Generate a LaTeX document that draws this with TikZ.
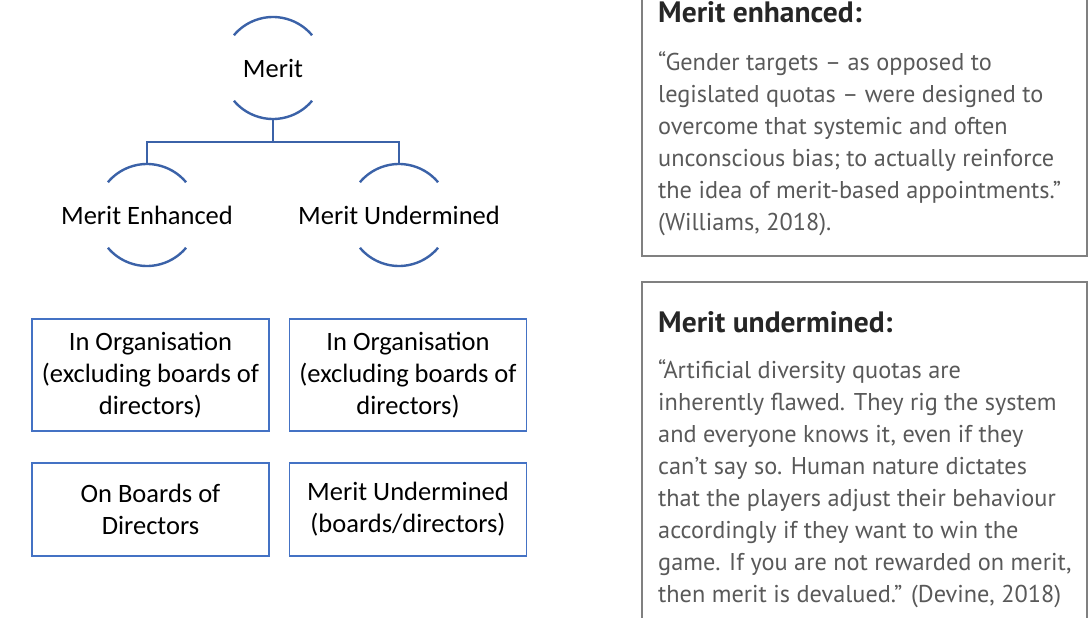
\documentclass[tikz,border=0pt]{standalone}
\usepackage{fontspec}
\setmainfont{Carlito}
\newfontfamily\quotefont{PT Sans}
\usetikzlibrary{positioning}
\definecolor{ringblue}{RGB}{59,98,168}
\definecolor{cellblue}{RGB}{68,114,196}
\definecolor{quotegray}{RGB}{89,89,89}
\definecolor{titlegray}{RGB}{38,38,38}
\definecolor{framegray}{RGB}{128,128,128}
\tikzset{
  ring/.style={circle,minimum size=102pt,inner sep=0pt,
    label={[font=\fontsize{26.5}{32}\selectfont]center:#1}},
  ringline/.style={draw=ringblue,line width=2.4pt},
  cell/.style={draw=cellblue,line width=1.3pt,minimum width=237pt,
    align=center,inner sep=0pt,font=\fontsize{26.5}{32}\selectfont},
  frame/.style={draw=framegray,line width=1.3pt},
  qtitle/.style={anchor=base west,inner sep=0pt,text=titlegray,
    font=\quotefont\bfseries\fontsize{29.5}{32}\selectfont},
  qbody/.style={anchor=base west,inner sep=0pt,align=left,text=quotegray,
    font=\quotefont\fontsize{24.3}{32}\selectfont}
}
% top and bottom arcs of a ring node
\newcommand\ringarcs[1]{%
  \draw[ringline] ([shift={(140:51pt)}]#1.center) arc[start angle=140,end angle=40,radius=51pt];
  \draw[ringline] ([shift={(220:51pt)}]#1.center) arc[start angle=220,end angle=320,radius=51pt];}
\begin{document}
\begin{tikzpicture}[x=1pt,y=-1pt]
\useasboundingbox (0,0) rectangle (1090,618);
\clip (0,0) rectangle (1090,618);

% tree
\node[ring=Merit] (merit) at (273,68) {};
\node[ring=Merit Enhanced] (enh) at (147,215) {};
\node[ring=Merit Undermined] (und) at (399,215) {};
\ringarcs{merit}
\ringarcs{enh}
\ringarcs{und}
\coordinate (fork) at ([yshift=-23pt]merit.south);
\draw[ringline] (merit.south) -- (fork) -| (enh.north);
\draw[ringline] (fork) -| (und.north);

% boxes
\node[cell,minimum height=112pt] (orgenh) at (150.5,375) {In Organisation\\(excluding boards of\\directors)};
\node[cell,minimum height=112pt] (orgund) at (408,375) {In Organisation\\(excluding boards of\\directors)};
\node[cell,minimum height=93pt] (brdenh) at (150.5,509.5) {On Boards of\\Directors};
\node[cell,minimum height=93pt] (brdund) at (408,509.5) {Merit Undermined\\(boards/directors)};

% quotes (anchored at the baseline of the last line)
\draw[frame] (642,-5) rectangle (1087,256);
\node[qtitle] (enhtitle) at (658,23) {Merit enhanced:};
\node[qbody] (enhquote) at (658,230) {“Gender targets – as opposed to\\
legislated quotas – were designed to\\
overcome that systemic and often\\
unconscious bias; to actually reinforce\\
the idea of merit-based appointments.”\\
(Williams, 2018).};

\draw[frame] (642,282) rectangle (1087,630);
\node[qtitle] (undtitle) at (658,332) {Merit undermined:};
\node[qbody] (undquote) at (658,602) {“Artificial diversity quotas are\\
inherently flawed. They rig the system\\
and everyone knows it, even if they\\
can’t say so. Human nature dictates\\
that the players adjust their behaviour\\
accordingly if they want to win the\\
game. If you are not rewarded on merit,\\
then merit is devalued.” (Devine, 2018)};
\end{tikzpicture}
\end{document}
